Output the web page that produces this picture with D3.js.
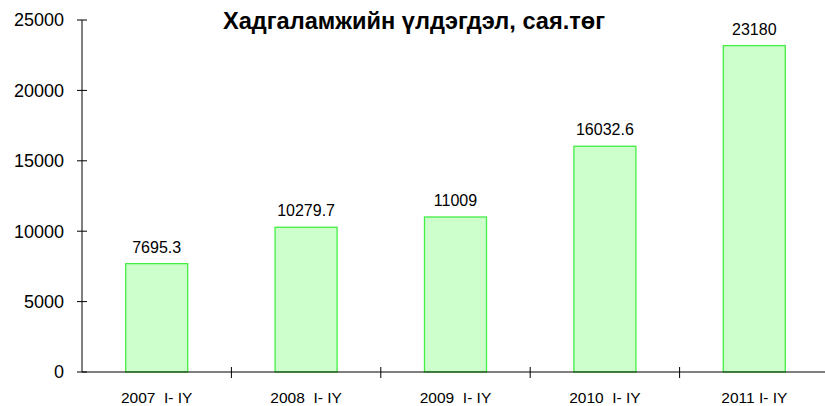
<!DOCTYPE html>
<html>
<head>
<meta charset="utf-8">
<script src="https://cdn.jsdelivr.net/npm/d3@7"></script>
<style>
  body { margin: 0; background: #fff; }
  text { font-family: "Liberation Sans", Arial, sans-serif; fill: #000; }
</style>
</head>
<body>
<svg></svg>
<script>
var svgWidth = 825, svgHeight = 406;
var categories = ['2007  I- IY', '2008  I- IY', '2009  I- IY', '2010  I- IY', '2011 I- IY'];
var values = [7695.3, 10279.7, 11009, 16032.6, 23180];
var valueLabels = ['7695.3', '10279.7', '11009', '16032.6', '23180'];
var yTicks = [0, 5000, 10000, 15000, 20000, 25000];
var title = 'Хадгаламжийн үлдэгдэл, сая.төг';

var plotLeft = 82, plotRight = 829, plotTop = 20, plotBottom = 372;

var svg = d3.select('svg')
    .attr('width', svgWidth)
    .attr('height', svgHeight);

var x = d3.scaleBand()
    .domain(categories)
    .range([plotLeft, plotRight])
    .paddingInner(0.585)
    .paddingOuter(0.2925);

var y = d3.scaleLinear()
    .domain([0, 25000])
    .range([plotBottom, plotTop]);

// bars
svg.selectAll('rect.bar')
    .data(values)
    .enter()
    .append('rect')
    .attr('class', 'bar')
    .attr('x', function(d, i){ return x(categories[i]); })
    .attr('y', function(d){ return y(d); })
    .attr('width', x.bandwidth())
    .attr('height', function(d){ return y(0) - y(d); })
    .attr('fill', '#ccffcc')
    .attr('stroke', '#44ee44')
    .attr('stroke-width', 1.3);

// value labels
svg.selectAll('text.val')
    .data(values)
    .enter()
    .append('text')
    .attr('class', 'val')
    .attr('x', function(d, i){ return x(categories[i]) + x.bandwidth() / 2; })
    .attr('y', function(d){ return y(d) - 11; })
    .attr('text-anchor', 'middle')
    .style('font-size', '16px')
    .text(function(d, i){ return valueLabels[i]; });

// y axis
var yAxis = svg.append('g');
yAxis.append('line')
    .attr('x1', plotLeft).attr('x2', plotLeft)
    .attr('y1', y(25000)).attr('y2', y(0))
    .attr('stroke', '#000');
yAxis.selectAll('line.tick')
    .data(yTicks)
    .enter()
    .append('line')
    .attr('x1', plotLeft - 5).attr('x2', plotLeft + 5)
    .attr('y1', function(d){ return y(d); })
    .attr('y2', function(d){ return y(d); })
    .attr('stroke', '#000');
yAxis.selectAll('text')
    .data(yTicks)
    .enter()
    .append('text')
    .attr('x', plotLeft - 18)
    .attr('y', function(d){ return y(d); })
    .attr('dy', '0.35em')
    .attr('text-anchor', 'end')
    .style('font-size', '18px')
    .text(function(d){ return d; });

// x axis, ticks between categories
var xAxis = svg.append('g');
xAxis.append('line')
    .attr('x1', plotLeft).attr('x2', svgWidth)
    .attr('y1', plotBottom).attr('y2', plotBottom)
    .attr('stroke', '#000');
var step = x.step();
xAxis.selectAll('line.tick')
    .data(categories.slice(1))
    .enter()
    .append('line')
    .attr('x1', function(d){ return x(d) + x.bandwidth() / 2 - step / 2; })
    .attr('x2', function(d){ return x(d) + x.bandwidth() / 2 - step / 2; })
    .attr('y1', plotBottom - 5).attr('y2', plotBottom + 6)
    .attr('stroke', '#000');
xAxis.selectAll('text')
    .data(categories)
    .enter()
    .append('text')
    .attr('x', function(d){ return x(d) + x.bandwidth() / 2; })
    .attr('y', plotBottom + 31)
    .attr('text-anchor', 'middle')
    .style('font-size', '15.5px')
    .style('white-space', 'pre')
    .text(function(d){ return d; });

// title
svg.append('text')
    .attr('x', 414)
    .attr('y', 29)
    .attr('text-anchor', 'middle')
    .style('font-size', '23.6px')
    .style('font-weight', 'bold')
    .text(title);
</script>
</body>
</html>
